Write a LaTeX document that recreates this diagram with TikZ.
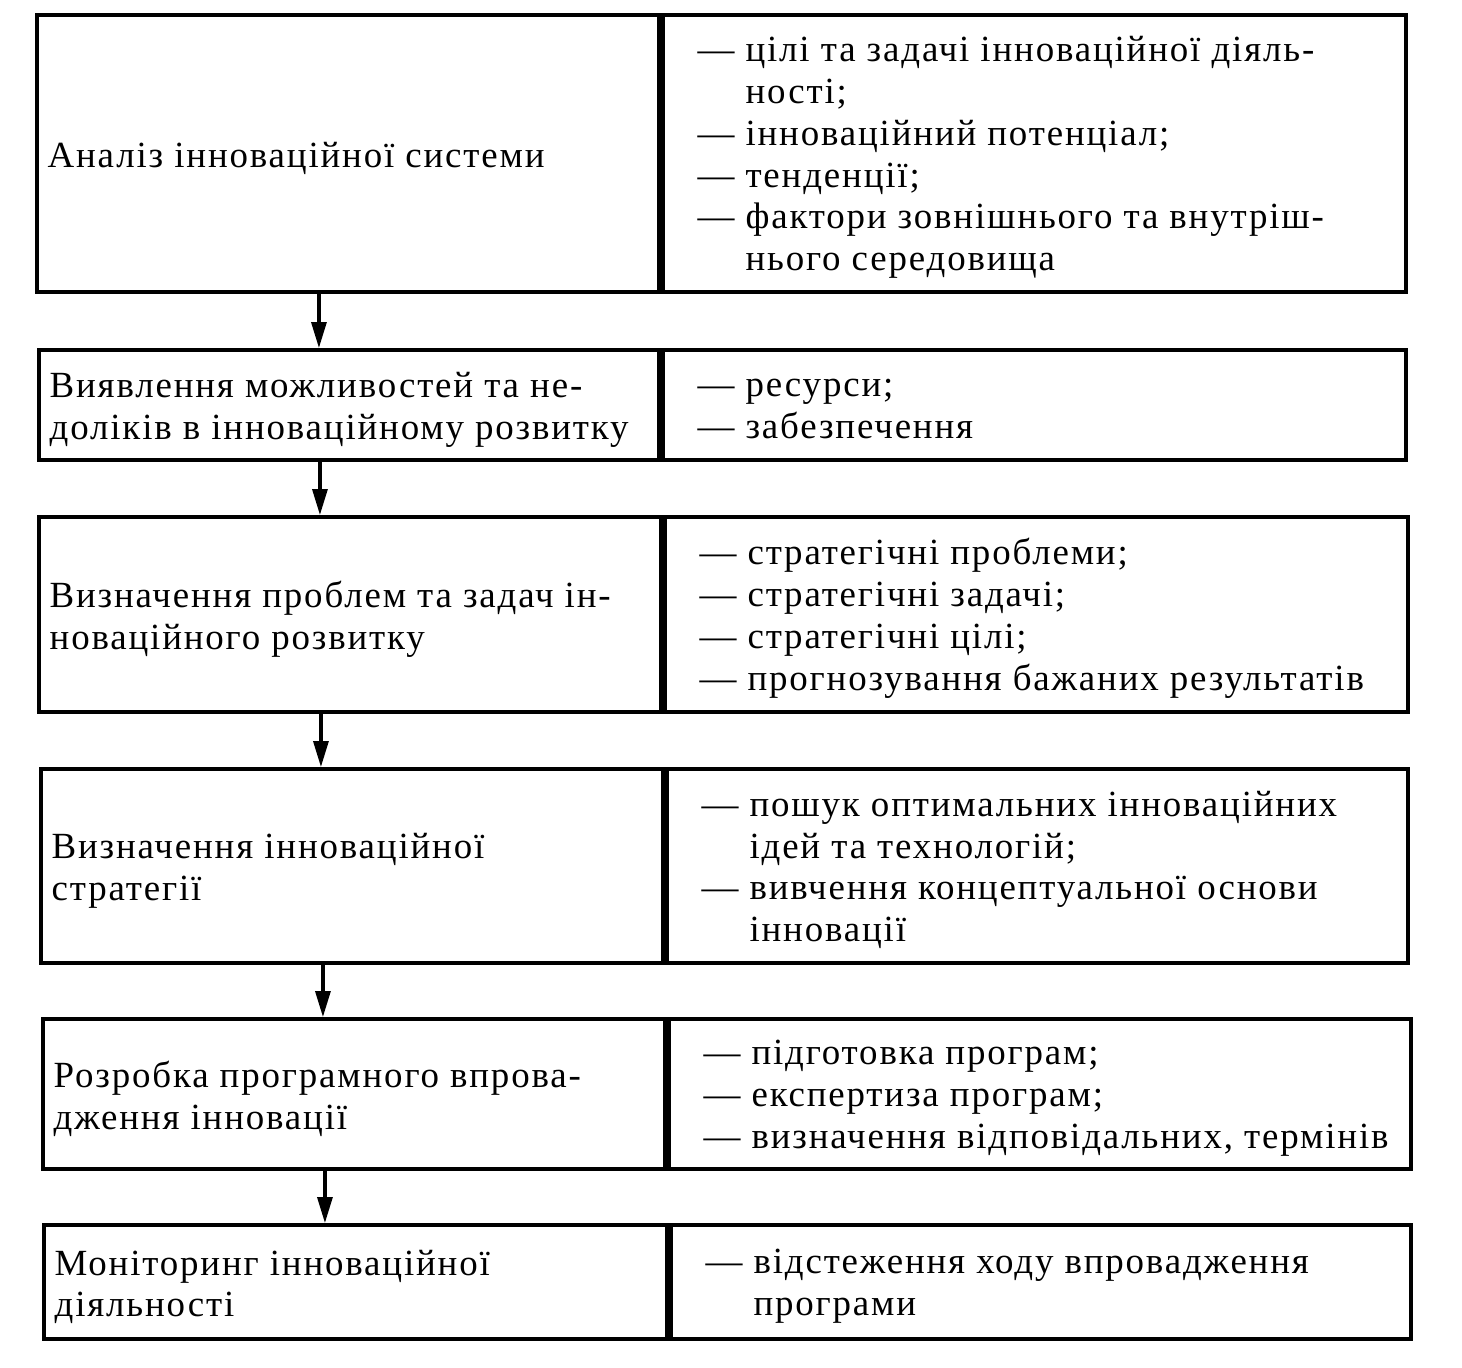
\documentclass[tikz,border=0pt]{standalone}
\usepackage{fontspec}
\setmainfont[LetterSpace=5]{Liberation Serif}
\usetikzlibrary{arrows.meta,positioning,calc}
% continuation line of a list item: indent by the width of the dash
\newcommand{\cont}{\phantom{— }}

\begin{document}
\begin{tikzpicture}[font=\fontsize{10.5}{11.9}\selectfont,
  stage/.style={draw, line width=1.1pt, anchor=north west, inner sep=0pt, minimum height=#1},
  ltext/.style={anchor=west, align=left, inner sep=0pt, yshift=-0.05cm, xshift=0.12cm},
  rtext/.style={anchor=west, align=left, inner sep=0pt, yshift=-0.04cm, xshift=0.36cm},
  flow/.style={line width=0.9pt, -{Triangle[length=2.6mm,width=1.5mm]}}]
% page frame
\useasboundingbox (0,0) rectangle (14.62,-13.67);
% ---------------- row 1 ----------------
\node[stage=2.77cm, minimum width=6.22cm] (a1) at (0.35,-0.13) {};
\node[stage=2.77cm, minimum width=7.43cm] (b1) at (a1.north east) {};
\node[ltext] (a1t) at (a1.west) {Аналіз інноваційної системи};
\node[rtext] (b1t) at (b1.west) {— цілі та задачі інноваційної діяль-\\
  \cont ності;\\
  — інноваційний потенціал;\\
  — тенденції;\\
  — фактори зовнішнього та внутріш-\\
  \cont нього середовища};
% ---------------- row 2 ----------------
\node[stage=1.10cm, minimum width=6.20cm] (a2) at (0.37,-3.48) {};
\node[stage=1.10cm, minimum width=7.43cm] (b2) at (a2.north east) {};
\node[ltext] (a2t) at (a2.west) {Виявлення можливостей та не-\\доліків в інноваційному розвитку};
\node[rtext] (b2t) at (b2.west) {— ресурси;\\— забезпечення};
% ---------------- row 3 ----------------
\node[stage=1.95cm, minimum width=6.22cm] (a3) at (0.37,-5.15) {};
\node[stage=1.95cm, minimum width=7.43cm] (b3) at (a3.north east) {};
\node[ltext] (a3t) at (a3.west) {Визначення проблем та задач ін-\\новаційного розвитку};
\node[rtext] (b3t) at (b3.west) {— стратегічні проблеми;\\
  — стратегічні задачі;\\
  — стратегічні цілі;\\
  — прогнозування бажаних результатів};
% ---------------- row 4 ----------------
\node[stage=1.94cm, minimum width=6.22cm] (a4) at (0.39,-7.67) {};
\node[stage=1.94cm, minimum width=7.41cm] (b4) at (a4.north east) {};
\node[ltext] (a4t) at (a4.west) {Визначення інноваційної\\стратегії};
\node[rtext] (b4t) at (b4.west) {— пошук оптимальних інноваційних\\
  \cont ідей та технологій;\\
  — вивчення концептуальної основи\\
  \cont інновації};
% ---------------- row 5 ----------------
\node[stage=1.50cm, minimum width=6.22cm] (a5) at (0.41,-10.17) {};
\node[stage=1.50cm, minimum width=7.42cm] (b5) at (a5.north east) {};
\node[ltext] (a5t) at (a5.west) {Розробка програмного впрова-\\дження інновації};
\node[rtext] (b5t) at (b5.west) {— підготовка програм;\\
  — експертиза програм;\\
  — визначення відповідальних, термінів};
% ---------------- row 6 ----------------
\node[stage=1.14cm, minimum width=6.23cm] (a6) at (0.42,-12.23) {};
\node[stage=1.14cm, minimum width=7.40cm] (b6) at (a6.north east) {};
\node[ltext] (a6t) at (a6.west) {Моніторинг інноваційної\\діяльності};
\node[rtext] (b6t) at (b6.west) {— відстеження ходу впровадження\\
  \cont програми};
% arrows between the stages
\foreach \i/\j in {1/2,2/3,3/4,4/5,5/6}
  \draw[flow] ([xshift=-0.29cm]a\i.south) -- ([xshift=-0.29cm]a\i.south |- a\j.north);
\end{tikzpicture}
\end{document}
